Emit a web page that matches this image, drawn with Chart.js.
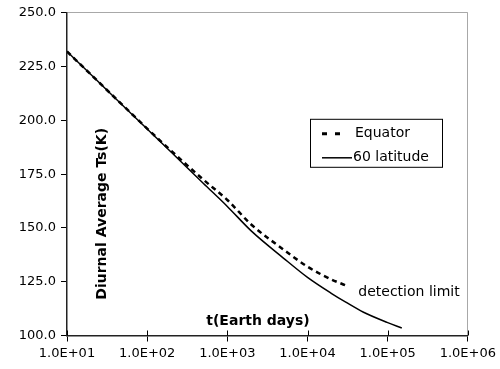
<!DOCTYPE html>
<html>
<head>
<meta charset="utf-8">
<script src="https://cdn.jsdelivr.net/npm/chart.js@4/dist/chart.umd.min.js"></script>
<style>
  html, body { margin: 0; padding: 0; background: #fff; }
  canvas { display: block; }
</style>
</head>
<body>
<canvas id="ts-chart" width="500" height="369"></canvas>
<script>
// time in Earth days, diurnal average surface temperature (K)
var equatorDays = [10, 20, 50, 100, 200, 500, 1000, 2000, 5000, 10000, 20000, 30000];
var equatorTemp = [232, 221.2, 206.9, 196.2, 185.8, 172.5, 163, 151.5, 140, 132, 126, 123.3];

var latDays = [10, 20, 50, 100, 200, 500, 1000, 2000, 5000, 10000, 20000, 30000, 50000, 100000, 150000];
var latTemp = [232, 221.2, 206.8, 196, 185.2, 170.8, 160, 148.5, 136, 127, 119.5, 115.5, 110.8, 106, 103.5];

var xTickValues = [10, 100, 1000, 10000, 100000, 1000000];
var xTickLabels = ['1.0E+01', '1.0E+02', '1.0E+03', '1.0E+04', '1.0E+05', '1.0E+06'];
var yTickValues = [100, 125, 150, 175, 200, 225, 250];
var yTickLabels = ['100.0', '125.0', '150.0', '175.0', '200.0', '225.0', '250.0'];

function toPoints(xs, ys) {
  return xs.map(function (x, i) { return { x: x, y: ys[i] }; });
}

var FONT = 'DejaVu Sans';
var frameGrey = '#a8a8a8';

// axis titles + note, drawn inside the plot like the original
var innerText = {
  id: 'innerText',
  afterDatasetsDraw: function (chart) {
    var ctx = chart.ctx, a = chart.chartArea;
    var xs = chart.scales.x;
    ctx.save();
    // x ticks also poke a little above the axis
    ctx.strokeStyle = '#000';
    ctx.lineWidth = 1;
    xTickValues.forEach(function (v) {
      var px = Math.round(xs.getPixelForValue(v)) + 0.5;
      ctx.beginPath();
      ctx.moveTo(px, a.bottom);
      ctx.lineTo(px, a.bottom - 5);
      ctx.stroke();
    });
    ctx.fillStyle = '#000';
    ctx.textAlign = 'center';
    ctx.textBaseline = 'middle';
    ctx.font = 'bold 14px "' + FONT + '"';
    ctx.save();
    ctx.translate(a.left + 35, a.top + 201);
    ctx.rotate(-Math.PI / 2);
    ctx.fillText('Diurnal Average Ts(K)', 0, 0);
    ctx.restore();
    ctx.fillText('t(Earth days)', a.left + 191, a.bottom - 14);
    ctx.font = '14px "' + FONT + '"';
    ctx.fillText('detection limit', a.left + 342, a.top + 280);
    ctx.restore();
  }
};

// boxed legend placed inside the chart area
var boxLegend = {
  id: 'boxLegend',
  afterDraw: function (chart) {
    var ctx = chart.ctx, a = chart.chartArea;
    var x = a.left + 243, y = a.top + 106, w = 132, h = 48;
    ctx.save();
    ctx.fillStyle = '#fff';
    ctx.fillRect(x, y, w, h);
    ctx.strokeStyle = '#000';
    ctx.lineWidth = 1;
    ctx.strokeRect(x + 0.5, y + 0.5, w, h);
    ctx.font = '14px "' + FONT + '"';
    ctx.textBaseline = 'middle';
    ctx.textAlign = 'left';
    ctx.fillStyle = '#000';
    chart.data.datasets.forEach(function (ds, i) {
      var cy = y + 15 + i * 24;
      var dashed = ds.borderDash && ds.borderDash.length;
      ctx.beginPath();
      ctx.strokeStyle = ds.borderColor;
      ctx.lineWidth = dashed ? 3 : ds.borderWidth;
      ctx.setLineDash(dashed ? [5, 8] : []);
      ctx.moveTo(x + 12, cy);
      ctx.lineTo(x + (dashed ? 30 : 42), cy);
      ctx.stroke();
      ctx.setLineDash([]);
      ctx.fillText(ds.label, x + (dashed ? 45 : 43), cy);
    });
    ctx.restore();
  }
};

var config = {
  type: 'line',
  data: {
    datasets: [
      {
        label: 'Equator',
        data: toPoints(equatorDays, equatorTemp),
        borderColor: '#000',
        borderWidth: 2.5,
        borderDash: [5, 4],
        pointRadius: 0,
        cubicInterpolationMode: 'monotone',
        fill: false
      },
      {
        label: '60 latitude',
        data: toPoints(latDays, latTemp),
        borderColor: '#000',
        borderWidth: 1.5,
        pointRadius: 0,
        cubicInterpolationMode: 'monotone',
        fill: false
      }
    ]
  },
  options: {
    responsive: false,
    animation: false,
    devicePixelRatio: 1,
    layout: { padding: { top: 12, right: 32, left: 0, bottom: 0 } },
    plugins: {
      legend: { display: false },
      tooltip: { enabled: false }
    },
    scales: {
      x: {
        type: 'logarithmic',
        min: 10,
        max: 1000000,
        afterBuildTicks: function (scale) {
          scale.ticks = xTickValues.map(function (v) { return { value: v }; });
        },
        afterFit: function (scale) { scale.height = 33.5; },
        ticks: {
          autoSkip: false,
          maxRotation: 0,
          color: '#000',
          padding: 4,
          font: { family: FONT, size: 13 },
          callback: function (v, i) { return xTickLabels[i]; }
        },
        grid: {
          color: function (c) {
            return c.tick && c.tick.value === 1000000 ? frameGrey : 'transparent';
          },
          tickColor: '#000',
          tickLength: 6
        },
        border: { color: '#222', width: 1.5 }
      },
      y: {
        min: 100,
        max: 250,
        afterBuildTicks: function (scale) {
          scale.ticks = yTickValues.map(function (v) { return { value: v }; });
        },
        afterFit: function (scale) { scale.width = 67; },
        ticks: {
          color: '#000',
          padding: 5,
          font: { family: FONT, size: 13 },
          callback: function (v, i) { return yTickLabels[i]; }
        },
        grid: {
          color: function (c) {
            return c.tick && c.tick.value === 250 ? frameGrey : 'transparent';
          },
          tickColor: '#000',
          tickLength: 6
        },
        border: { color: '#222', width: 1.5 }
      }
    }
  },
  plugins: [innerText, boxLegend]
};

var ctx = document.getElementById('ts-chart').getContext('2d');
new Chart(ctx, config);
</script>
</body>
</html>
